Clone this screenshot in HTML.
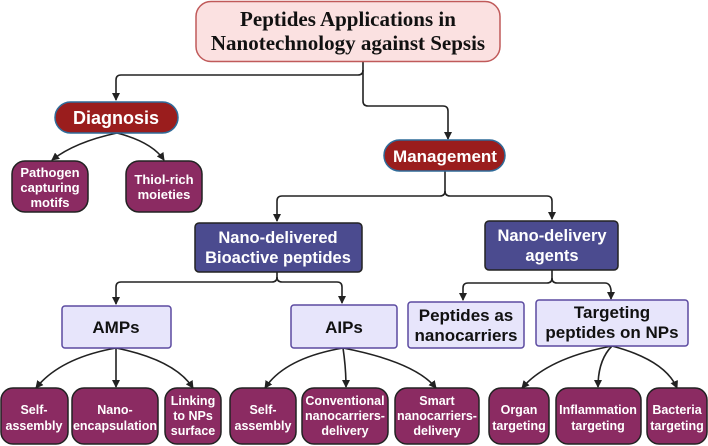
<!DOCTYPE html>
<html><head><meta charset="utf-8"><style>
html,body{margin:0;padding:0;background:#fff;}
svg{display:block}
text{font-family:"Liberation Sans",sans-serif;font-weight:bold;text-anchor:middle;}
</style></head><body>
<svg width="708" height="446" viewBox="0 0 708 446" xmlns="http://www.w3.org/2000/svg">
<defs>
<marker id="b" markerWidth="8" markerHeight="8" refX="7" refY="4" orient="auto" markerUnits="userSpaceOnUse" viewBox="0 0 8 8">
<path d="M0,0 L8,4 L0,8 Z" fill="#222"/>
</marker>
</defs>
<g fill="none" stroke="#222" stroke-width="1.6">
<path d="M363,62 V70 Q363,75 358,75 H121 Q116,75 116,80 V100" marker-end="url(#b)"/>
<path d="M363,70 V101 Q363,106 368,106 H443 Q448,106 448,111 V139" marker-end="url(#b)"/>
<path d="M117,133 Q75,142 52,160" marker-end="url(#b)"/>
<path d="M117,133 Q152,142 164,160" marker-end="url(#b)"/>
<path d="M445,171 V191 Q445,196 440,196 H282 Q277,196 277,201 V221" marker-end="url(#b)"/>
<path d="M445,191 Q445,196 450,196 H547 Q552,196 552,201 V219" marker-end="url(#b)"/>
<path d="M277,272 V277 Q277,282 272,282 H121 Q116,282 116,287 V304" marker-end="url(#b)"/>
<path d="M277,277 Q277,282 282,282 H337 Q342,282 342,287 V303" marker-end="url(#b)"/>
<path d="M552,270 V278 Q552,283 547,283 H468 Q463,283 463,288 V300" marker-end="url(#b)"/>
<path d="M552,278 Q552,283 557,283 H605 Q610,283 611,290 V299" marker-end="url(#b)"/>
<path d="M116,348 Q60,358 36,388" marker-end="url(#b)"/>
<path d="M116,348 V387" marker-end="url(#b)"/>
<path d="M116,348 Q175,360 193,388" marker-end="url(#b)"/>
<path d="M343,348 Q285,358 265,388" marker-end="url(#b)"/>
<path d="M343,348 Q346,368 346,387" marker-end="url(#b)"/>
<path d="M343,348 Q415,362 436,388" marker-end="url(#b)"/>
<path d="M612,346 Q548,358 522,388" marker-end="url(#b)"/>
<path d="M612,346 Q598,360 598,387" marker-end="url(#b)"/>
<path d="M612,346 Q665,360 677,388" marker-end="url(#b)"/>
</g>
<rect x="196" y="1.5" width="304" height="60" rx="15" fill="#fbe1e1" stroke="#c05a5a" stroke-width="1.5"/>
<text x="348" y="26" style="font-family:'Liberation Serif',serif" font-size="21" fill="#111">Peptides Applications in</text>
<text x="348" y="50" style="font-family:'Liberation Serif',serif" font-size="21" fill="#111">Nanotechnology against Sepsis</text>
<rect x="55" y="102" width="123" height="31" rx="15.5" fill="#9a1d1d" stroke="#2f6b99" stroke-width="1.5"/>
<text x="116" y="124" font-size="18" fill="#fff">Diagnosis</text>
<rect x="384" y="140" width="121" height="31" rx="15.5" fill="#9a1d1d" stroke="#2f6b99" stroke-width="1.5"/>
<text x="445" y="162" font-size="17" fill="#fff">Management</text>
<g fill="#8b2b62" stroke="#222" stroke-width="1.5">
<rect x="12" y="161" width="76" height="51" rx="13"/>
<rect x="126" y="161" width="76" height="51" rx="13"/>
</g>
<g font-size="13" fill="#fff">
<text x="50" y="177">Pathogen</text><text x="50" y="192">capturing</text><text x="50" y="207">motifs</text>
<text x="164" y="184">Thiol-rich</text><text x="164" y="199">moieties</text>
</g>
<g fill="#4b4b8f" stroke="#222" stroke-width="1.5">
<rect x="195" y="223" width="167" height="49" rx="4"/>
<rect x="485" y="221" width="133" height="49" rx="4"/>
</g>
<g font-size="16.5" fill="#fff">
<text x="278" y="243">Nano-delivered</text><text x="278" y="263">Bioactive peptides</text>
<text x="552" y="241">Nano-delivery</text><text x="552" y="261">agents</text>
</g>
<g fill="#e7e5fb" stroke="#5b4aa0" stroke-width="1.5">
<rect x="62" y="306" width="109" height="42" rx="3"/>
<rect x="291" y="305" width="106" height="43" rx="3"/>
<rect x="408" y="302" width="116" height="46" rx="3"/>
<rect x="536" y="300" width="152" height="46" rx="3"/>
</g>
<g font-size="17" fill="#111">
<text x="116" y="333">AMPs</text>
<text x="344" y="333">AIPs</text>
<text x="466" y="321">Peptides as</text><text x="466" y="341">nanocarriers</text>
<text x="612" y="318">Targeting</text><text x="612" y="338">peptides on NPs</text>
</g>
<g fill="#8b2b62" stroke="#222" stroke-width="1.5">
<rect x="1" y="388" width="67" height="56" rx="12"/>
<rect x="72" y="388" width="86" height="56" rx="12"/>
<rect x="165" y="388" width="56" height="56" rx="12"/>
<rect x="230" y="388" width="66" height="56" rx="12"/>
<rect x="302" y="388" width="86" height="56" rx="12"/>
<rect x="395" y="388" width="84" height="56" rx="12"/>
<rect x="489" y="388" width="60" height="56" rx="12"/>
<rect x="556" y="388" width="85" height="56" rx="12"/>
<rect x="647" y="388" width="60" height="56" rx="12"/>
</g>
<g font-size="12.5" fill="#fff">
<text x="34" y="414">Self-</text><text x="34" y="430">assembly</text>
<text x="115" y="414">Nano-</text><text x="115" y="430">encapsulation</text>
<text x="193" y="405">Linking</text><text x="193" y="420">to NPs</text><text x="193" y="435">surface</text>
<text x="263" y="414">Self-</text><text x="263" y="430">assembly</text>
<text x="345" y="405">Conventional</text><text x="345" y="420">nanocarriers-</text><text x="345" y="435">delivery</text>
<text x="437" y="405">Smart</text><text x="437" y="420">nanocarriers-</text><text x="437" y="435">delivery</text>
<text x="519" y="414">Organ</text><text x="519" y="430">targeting</text>
<text x="598" y="414">Inflammation</text><text x="598" y="430">targeting</text>
<text x="677" y="414">Bacteria</text><text x="677" y="430">targeting</text>
</g>
</svg>
</body></html>
